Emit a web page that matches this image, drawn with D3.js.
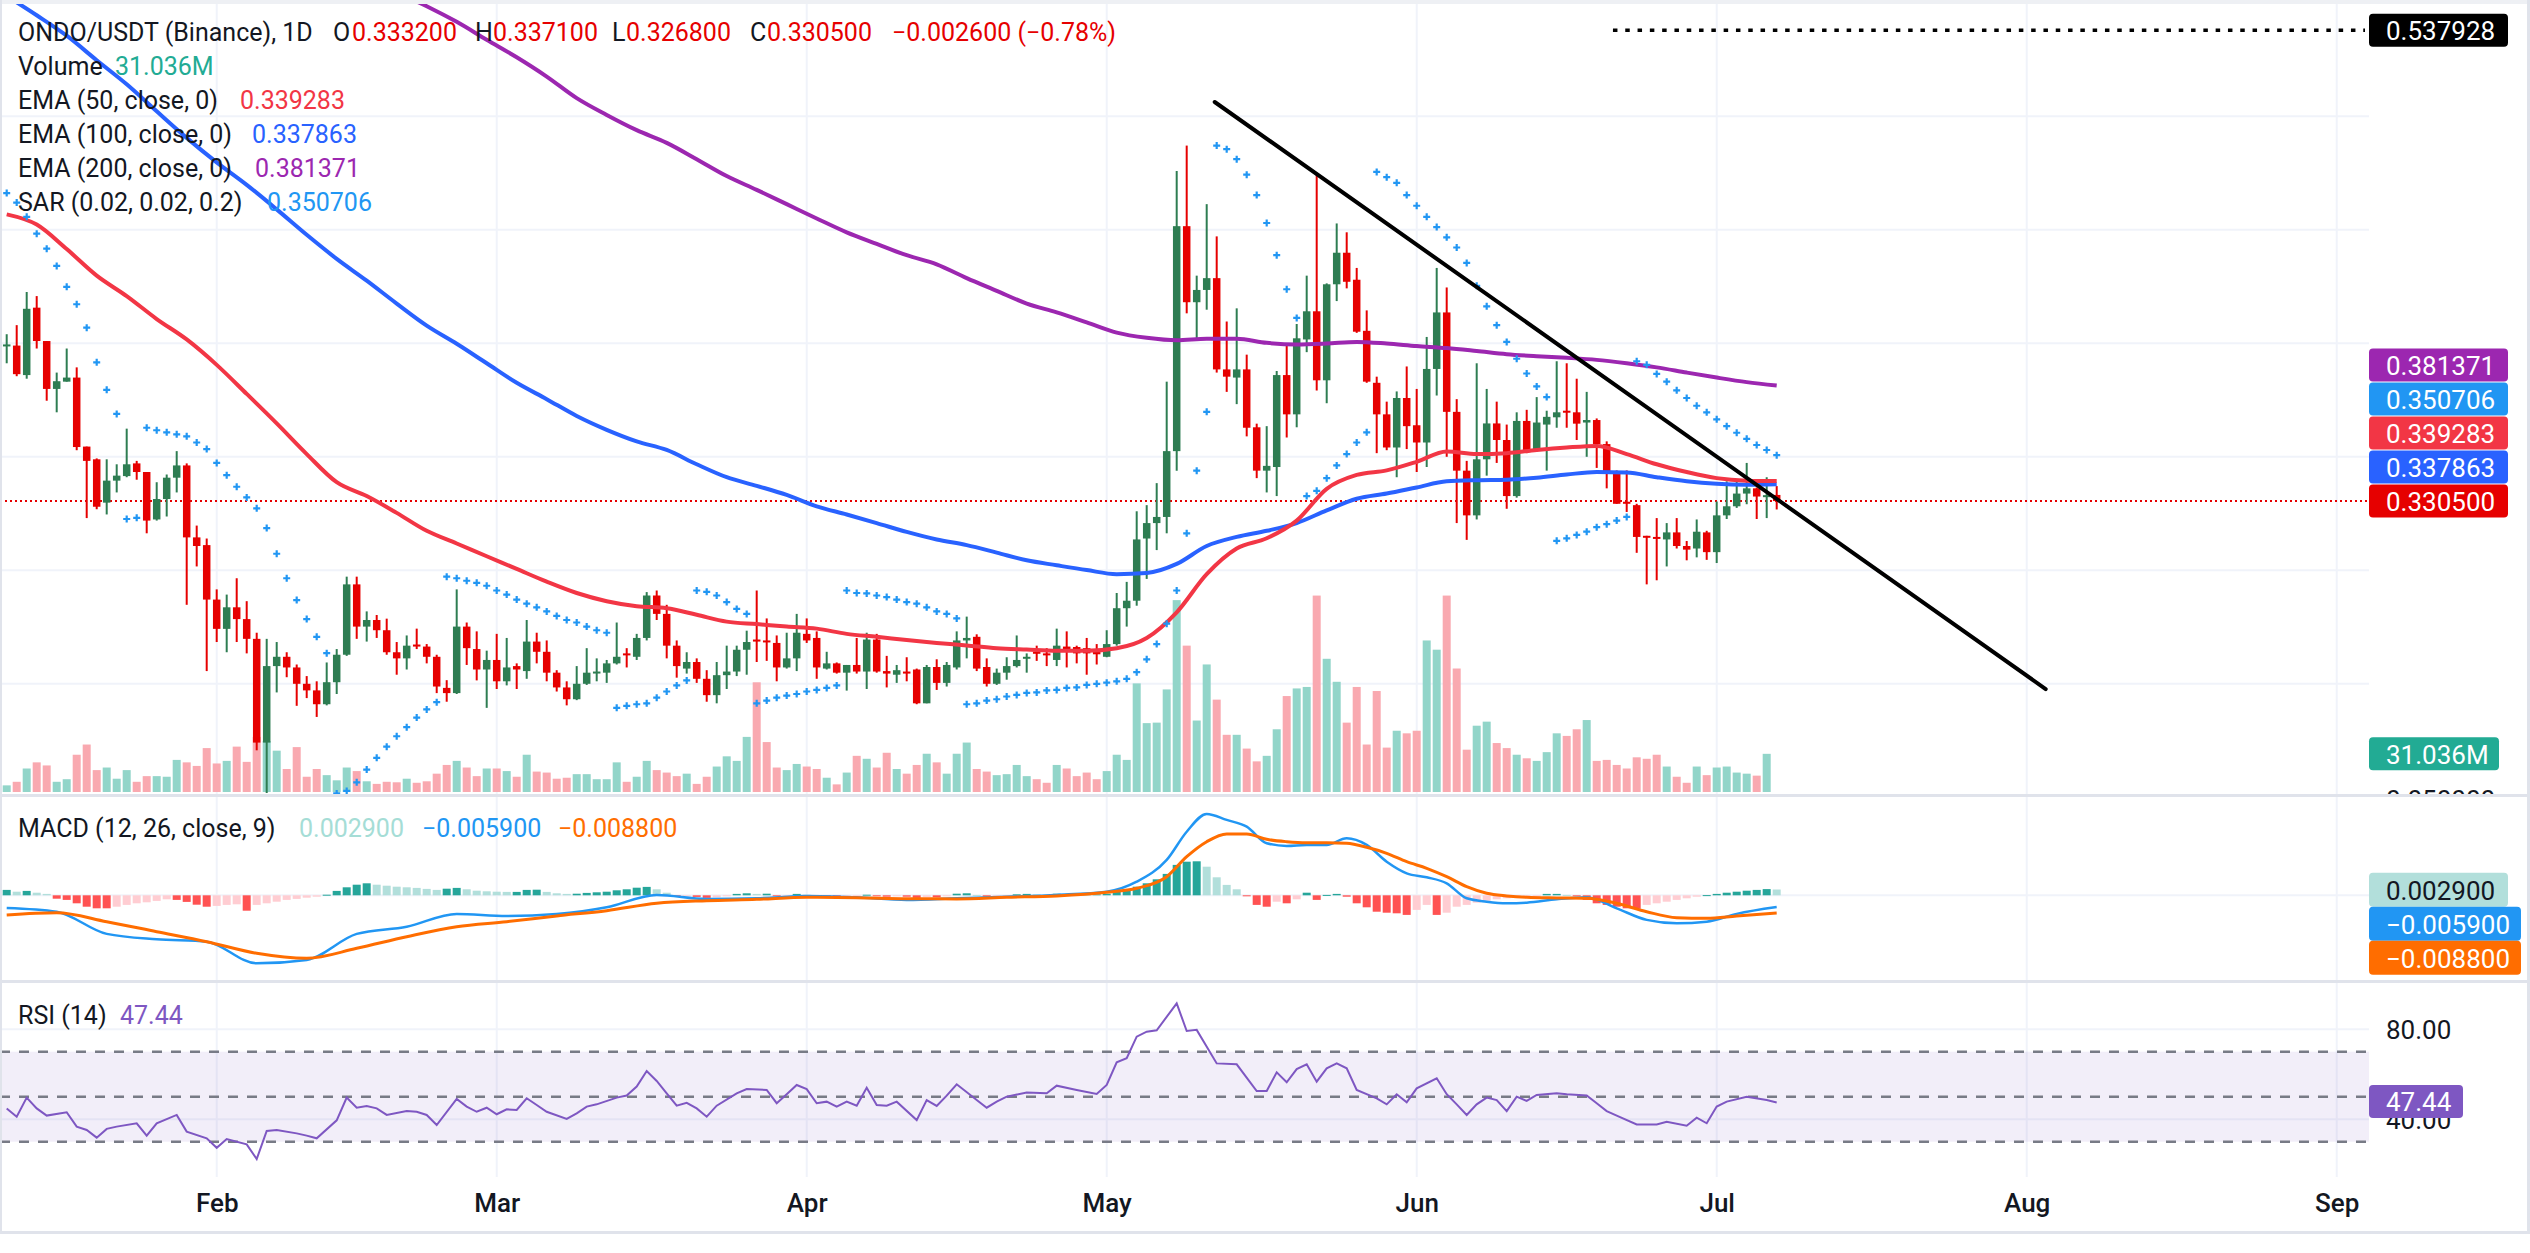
<!DOCTYPE html>
<html><head><meta charset="utf-8">
<script src="https://cdn.jsdelivr.net/npm/d3@7"></script>
<style>
html,body{margin:0;padding:0;background:#fff;}
svg{display:block;font-family:Roboto,"Liberation Sans",sans-serif;}
</style></head><body>
<svg id="chart" width="2530" height="1253"></svg>
<script>
// ---------------- DATA ----------------
const startDate = "2025-01-11";
const open = [.3988,.3990,.3860,.4157,.4010,.3799,.3831,.3849,.3545,.3489,.3298,.3395,.3415,.3471,.3433,.3224,.3314,.3408,.3462,.3145,.3111,.2871,.2742,.2837,.2785,.2698,.2241,.2578,.2619,.2572,.2500,.2471,.2410,.2507,.2628,.2938,.2752,.2781,.2736,.2639,.2612,.2673,.2664,.2619,.2482,.2459,
.2752,.2653,.2563,.2605,.2511,.2578,.2556,.2686,.2641,.2549,.2484,.2432,.2500,.2549,.2549,.2590,.2634,.2619,.2702,.2889,.2808,.2668,.2567,.2596,.2522,.2450,.2538,.2554,.2650,.2695,.2691,.2680,.2572,.2612,.2720,.2702,.2567,.2590,.2549,.2583,.2554,.2695,.2556,.2540,.2554,
.2563,.2414,.2574,.2504,.2572,.2691,.2707,.2574,.2500,.2549,.2578,.2612,.2641,.2634,.2605,.2664,.2662,.2657,.2641,.2619,.2675,.2833,.2866,.3140,.3208,.3235,.3525,.4516,.4181,.4235,.4287,.3885,.3849,.3885,.3630,.3439,.3455,.3860,.3687,.4017,.4141,.3837,.4260,.4399,.4280,
.4055,.3826,.3687,.3541,.3759,.3639,.3563,.3887,.4136,.3698,.3439,.3242,.3489,.3647,.3574,.3327,.3658,.3530,.3642,.3674,.3703,.3696,.3651,.3662,.3556,.3433,.3302,.3287,.3152,.3147,.3136,.3167,.3107,.3096,.3167,.3080,.3242,.3282,.3338,.3361,.3325,.3332];
const high = [.4040,.4080,.4226,.4208,.4010,.3871,.3977,.3894,.3545,.3493,.3489,.3467,.3624,.3482,.3433,.3388,.3422,.3525,.3471,.3197,.3140,.2916,.2893,.2965,.2864,.2725,.2698,.2684,.2639,.2585,.2534,.2511,.2594,.2653,.2972,.2972,.2819,.2803,.2787,.2684,.2713,.2743,.2675,.2628,.2516,.2916,
.2770,.2731,.2646,.2720,.2702,.2590,.2781,.2725,.2691,.2560,.2511,.2578,.2657,.2612,.2605,.2770,.2657,.2720,.2904,.2911,.2848,.2691,.2639,.2612,.2560,.2596,.2668,.2668,.2734,.2911,.2788,.2713,.2725,.2808,.2788,.2731,.2641,.2594,.2583,.2702,.2725,.2720,.2623,.2583,.2617,
.2567,.2583,.2608,.2596,.2731,.2796,.2718,.2612,.2567,.2617,.2713,.2634,.2668,.2657,.2743,.2731,.2668,.2702,.2675,.2736,.2900,.2949,.3260,.3287,.3384,.3831,.4759,.4871,.4298,.4613,.4471,.4096,.4154,.3950,.3646,.3635,.3878,.4001,.4085,.4298,.4748,.4264,.4528,.4489,.4332,
.4145,.3853,.3743,.3788,.3898,.3799,.4028,.4332,.4246,.3754,.3482,.3912,.3799,.3743,.3642,.3696,.3707,.3763,.3703,.3921,.3912,.3844,.3786,.3669,.3568,.3440,.3440,.3293,.3152,.3230,.3208,.3230,.3129,.3224,.3174,.3303,.3392,.3392,.3473,.3365,.3410,.3371];
const low = [.3912,.3855,.3844,.3977,.3747,.3696,.3831,.3529,.3230,.3269,.3246,.3343,.3410,.3399,.3163,.3219,.3237,.3343,.2848,.3017,.2556,.2684,.2639,.2684,.2634,.2207,.2019,.2462,.2529,.2403,.2437,.2354,.2405,.2455,.2623,.2698,.2686,.2702,.2628,.2540,.2563,.2653,.2590,.2459,.2421,.2455,
.2583,.2515,.2394,.2477,.2493,.2477,.2522,.2590,.2511,.2466,.2405,.2428,.2495,.2511,.2504,.2585,.2572,.2605,.2691,.2781,.2612,.2527,.2545,.2504,.2421,.2414,.2477,.2534,.2540,.2596,.2601,.2511,.2567,.2556,.2680,.2522,.2563,.2545,.2470,.2545,.2477,.2549,.2484,.2504,.2511,
.2410,.2414,.2473,.2488,.2563,.2612,.2556,.2488,.2495,.2518,.2572,.2549,.2601,.2578,.2578,.2572,.2590,.2540,.2585,.2617,.2668,.2752,.2844,.2962,.3089,.3163,.3439,.4132,.4022,.4148,.3871,.3786,.3732,.3590,.3406,.3343,.3327,.3585,.3630,.3961,.3792,.3736,.4186,.4242,.4046,
.3826,.3516,.3529,.3410,.3534,.3433,.3455,.3770,.3500,.3208,.3134,.3224,.3417,.3473,.3271,.3320,.3516,.3523,.3439,.3628,.3628,.3574,.3500,.3451,.3361,.3293,.3257,.3077,.2938,.2956,.3017,.3096,.3044,.3057,.3046,.3032,.3226,.3275,.3291,.3226,.3230,.3268];
const close = [.3995,.3864,.4152,.4010,.3799,.3833,.3849,.3543,.3482,.3280,.3395,.3417,.3467,.3433,.3219,.3314,.3408,.3462,.3145,.3107,.2871,.2742,.2837,.2785,.2698,.2241,.2578,.2619,.2572,.2500,.2471,.2410,.2507,.2628,.2938,.2752,.2781,.2736,.2639,.2612,.2668,.2664,.2619,.2488,.2459,.2752,
.2657,.2563,.2605,.2511,.2572,.2563,.2686,.2641,.2549,.2484,.2432,.2500,.2549,.2554,.2590,.2619,.2628,.2702,.2889,.2808,.2668,.2578,.2596,.2522,.2450,.2538,.2554,.2650,.2684,.2686,.2684,.2572,.2612,.2725,.2691,.2572,.2590,.2549,.2583,.2554,.2695,.2554,.2545,.2560,.2545,
.2414,.2574,.2504,.2583,.2691,.2702,.2567,.2500,.2549,.2578,.2605,.2619,.2634,.2628,.2668,.2650,.2634,.2634,.2630,.2675,.2833,.2866,.3136,.3208,.3235,.3525,.4516,.4181,.4235,.4287,.3885,.3853,.3885,.3628,.3439,.3460,.3860,.3687,.4022,.4141,.3837,.4260,.4399,.4271,.4051,
.3831,.3687,.3541,.3759,.3635,.3563,.3887,.4136,.3698,.3439,.3242,.3489,.3647,.3574,.3327,.3658,.3530,.3651,.3676,.3696,.3696,.3646,.3662,.3556,.3433,.3293,.3293,.3147,.3145,.3140,.3167,.3107,.3091,.3170,.3080,.3242,.3282,.3338,.3361,.3325,.3331,.3305];
const volumeM = [5.4,8.3,19.1,24.1,21.6,8.3,10.4,30.3,38.6,17.8,19.9,10.8,17.8,8.3,12.9,12.9,12.4,26.1,24.1,21.2,35.7,23.2,25.3,36.9,24.5,44.8,41.5,33.6,18.7,36.5,12.4,18.7,13.7,9.5,19.9,17.0,8.7,6.6,8.3,7.9,10.8,7.5,8.7,14.9,22.0,25.3,
19.9,12.9,19.1,19.1,17.0,12.4,30.3,16.6,15.8,10.8,11.6,14.5,14.5,10.4,10.4,24.1,8.3,12.4,25.3,17.8,15.8,12.9,14.9,6.6,12.4,20.7,29.0,25.3,44.8,89.2,40.6,19.9,17.8,22.8,20.7,18.7,11.6,6.2,15.8,29.4,27.0,19.9,31.9,18.7,14.9,
22.0,31.1,24.1,14.9,31.1,40.2,18.7,16.6,13.7,14.5,22.0,12.9,10.4,7.5,22.0,19.1,12.9,15.8,10.4,17.0,30.3,26.1,88.3,56.0,56.4,83.4,156.0,119.0,58.1,103.7,75.1,46.5,46.5,35.3,24.9,29.4,51.0,78.0,84.2,85.4,159.7,108.3,89.6,56.4,85.4,
38.6,82.1,36.1,49.8,47.7,49.8,123.2,115.7,159.7,100.4,34.4,53.9,57.2,39.8,35.7,30.3,27.4,25.3,32.4,47.7,45.6,51.0,58.5,25.3,26.1,22.0,19.1,28.2,27.0,30.3,20.7,12.4,7.5,20.7,13.7,19.9,20.7,15.8,14.9,13.3,31.036];
const sar = [.4662,.4620,.4557,.4483,.4417,.4341,.4249,.4172,.4069,.3916,.3795,.3689,.3226,.3231,.3628,.3617,.3608,.3599,.3590,.3563,.3534,.3473,.3419,.3368,.3321,.3273,.3186,.3073,.2965,.2869,.2785,.2707,.2635,.2017,.2028,.2066,.2122,.2174,.2223,.2269,.2309,.2351,.2387,.2419,.2972,.2965,
.2954,.2945,.2932,.2911,.2893,.2871,.2853,.2837,.2819,.2799,.2781,.2770,.2752,.2736,.2725,.2394,.2403,.2410,.2414,.2439,.2466,.2493,.2515,.2911,.2905,.2889,.2860,.2830,.2808,.2414,.2426,.2439,.2448,.2455,.2466,.2473,.2482,.2493,.2911,.2900,.2898,.2889,.2882,.2871,.2860,
.2853,.2837,.2819,.2808,.2788,.2410,.2414,.2426,.2432,.2444,.2451,.2460,.2462,.2471,.2473,.2482,.2484,.2495,.2500,.2505,.2511,.2522,.2551,.2608,.2675,.2765,.2911,.3163,.3439,.3698,.4871,.4855,.4811,.4743,.4653,.4530,.4388,.4238,.4112,.3327,.3350,.3406,.3462,.3512,.3563,
.3608,.4755,.4732,.4707,.4653,.4606,.4557,.4512,.4467,.4422,.4354,.4253,.4163,.4080,.4006,.3932,.3867,.3810,.3763,.3130,.3141,.3156,.3170,.3190,.3203,.3219,.3235,.3921,.3905,.3865,.3831,.3793,.3759,.3725,.3696,.3665,.3635,.3606,.3579,.3552,.3530,.3507];
// EMA samples (every 3rd session)
const ema50Days = d3.range(0, 178, 3);
const ema50 = [.4568,.4523,.4415,.4298,.4208,.4107,.4017,.3905,.3777,.3647,.3512,.3388,.3327,.3253,.3174,.3118,.3062,.3006,.2950,.2900,.2864,.2842,.2833,.2804,.2774,.2763,.2752,.2743,.2720,.2707,.2693,.2680,.2669,.2657,.2651,.2646,.2646,.2657,.2702,.2815,.2983,.3096,.3141,.3219,.3359,.3420,.3440,.3478,.3523,.3512,.3516,.3530,.3541,.3548,.3512,.3467,.3433,.3406,.3395,.3393];
const ema100Days = d3.range(0, 178, 3);
const ema100 = [.5530,.5445,.5355,.5247,.5141,.5022,.4905,.4797,.4698,.4590,.4478,.4372,.4276,.4175,.4078,.3998,.3912,.3826,.3754,.3680,.3619,.3568,.3530,.3467,.3410,.3372,.3332,.3282,.3246,.3208,.3169,.3136,.3111,.3078,.3044,.3022,.3001,.2983,.2988,.3028,.3107,.3147,.3174,.3208,.3264,.3315,.3338,.3365,.3392,.3397,.3399,.3408,.3422,.3433,.3431,.3410,.3392,.3381,.3377,.3379];
const ema200Days = d3.range(36, 178, 3);
const ema200 = [.5613,.5546,.5485,.5416,.5337,.5260,.5175,.5080,.5006,.4939,.4883,.4811,.4737,.4676,.4613,.4550,.4489,.4438,.4388,.4348,.4287,.4231,.4175,.4136,.4092,.4047,.4024,.4013,.4020,.4020,.4002,.3995,.3999,.4006,.3999,.3988,.3979,.3966,.3952,.3943,.3936,.3927,.3912,.3894,.3871,.3849,.3829,.3814];
// MACD samples
const macdDays = [0,5,10,15,20,25,30,35,40,45,50,55,60,65,70,75,80,85,90,95,100,105,110,113,116,118,120,122,124,126,128,130,132,134,136,138,140,142,144,146,148,150,152,155,158,161,164,167,170,173,177];
const macdLine = [-.0063,-.0082,-.0193,-.0220,-.0232,-.0340,-.0323,-.0193,-.0157,-.0093,-.0103,-.0093,-.0060,.0002,-.0018,-.0015,-.0003,-.0010,-.0023,-.0015,-.0007,.0002,.0018,.0068,.0177,.0318,.0407,.0377,.0343,.0260,.0247,.0252,.0252,.0285,.0252,.0168,.0110,.0090,.0060,-.0015,-.0032,-.0040,-.0037,-.0020,-.0010,-.0065,-.0123,-.0140,-.0132,-.0093,-.0059];
const signalLine = [-.0098,-.0087,-.0132,-.0182,-.0232,-.0290,-.0315,-.0265,-.0207,-.0157,-.0132,-.0103,-.0077,-.0040,-.0027,-.0020,-.0010,-.0012,-.0017,-.0018,-.0010,-.0003,.0015,.0035,.0093,.0193,.0268,.0307,.0307,.0280,.0268,.0263,.0263,.0260,.0240,.0210,.0168,.0135,.0093,.0043,.0010,-.0003,-.0010,-.0013,-.0015,-.0040,-.0082,-.0112,-.0115,-.0103,-.0088];
const macdHist = [.0027,.0018,.0022,.0013,.0007,-.0017,-.0023,-.0040,-.0057,-.0065,-.0065,-.0057,-.0048,-.0040,-.0035,-.0028,-.0020,-.0023,-.0033,-.0047,-.0057,-.0053,-.0048,-.0045,-.0077,-.0048,-.0040,-.0032,-.0023,-.0018,-.0012,-.0007,.0003,.0022,.0040,.0053,.0060,.0053,.0048,.0043,.0040,.0037,.0032,.0027,.0033,.0037,
.0030,.0023,.0020,.0018,.0017,.0017,.0027,.0028,.0017,.0010,.0007,.0008,.0012,.0015,.0018,.0025,.0030,.0038,.0042,.0030,.0013,-.0003,-.0002,-.0008,-.0013,-.0010,-.0003,.0007,.0010,.0007,.0008,-.0003,-.0002,.0007,.0003,-.0007,-.0007,-.0010,-.0008,-.0005,.0003,-.0003,-.0007,-.0003,-.0007,
-.0013,-.0008,-.0010,-.0003,.0008,.0010,.0001,-.0007,-.0003,-.0001,.0005,.0007,.0005,.0003,.0008,.0007,.0005,.0003,.0005,.0008,.0018,.0027,.0043,.0060,.0080,.0107,.0152,.0168,.0170,.0143,.0090,.0052,.0030,-.0003,-.0048,-.0057,-.0032,-.0040,-.0020,.0013,-.0023,.0002,.0007,-.0007,-.0040,
-.0060,-.0082,-.0087,-.0090,-.0098,-.0073,-.0048,-.0098,-.0087,-.0057,-.0048,-.0037,-.0027,-.0020,-.0015,-.0010,-.0007,-.0003,.0007,.0007,.0002,-.0003,-.0023,-.0040,-.0048,-.0057,-.0065,-.0067,-.0048,-.0040,-.0032,-.0023,-.0015,-.0007,.0001,.0007,.0013,.0018,.0023,.0027,.0031,.0029];
// RSI samples
const rsiDays = [0,1,2,3,4,6,7,8,9,10,11,13,14,15,17,18,20,21,22,24,25,26,27,29,30,31,33,34,35,36,37,38,40,41,42,43,45,46,47,48,49,50,51,52,53,54,56,57,58,59,61,62,63,64,65,66,67,68,69,70,71,73,74,76,77,78,79,80,81,82,83,84,85,86,87,88,89,91,92,93,94,95,97,98,99,100,102,104,105,107,109,110,111,112,113,114,115,117,118,119,121,123,125,126,127,128,129,130,131,132,133,134,135,137,138,139,140,141,143,144,145,146,147,148,149,150,151,152,153,155,156,158,159,160,161,163,165,166,168,169,170,171,172,174,176,177];
const rsiVals = [44.8,41.1,49.6,44.8,41.6,43.1,36.7,35.2,31.8,35.7,36.7,38.2,32.7,38.2,41.9,34.5,31.5,27.3,31.2,28.8,22.3,34.8,35.2,33.7,32.7,31.5,39.5,49.6,45.1,45.9,44.8,41.9,43.6,43.3,41.9,37.4,49.0,45.6,43.3,45.1,42.2,44.4,44.1,49.3,46.3,43.3,40.1,42.6,45.6,46.6,49.6,50.5,54.5,61.4,57.0,51.5,46.0,47.3,44.8,41.1,46.0,51.5,53.4,53.0,47.1,51.1,55.2,53.4,47.1,47.8,45.6,47.8,46.0,54.0,46.3,46.0,47.8,39.6,48.5,45.9,50.5,55.5,48.5,45.1,47.8,50.0,51.9,51.5,54.9,53.0,51.2,55.2,65.3,67.1,76.7,78.9,79.5,91.5,79.2,79.7,64.8,64.4,52.5,52.5,60.8,56.4,62.3,64.4,56.7,62.6,64.8,62.6,53.0,49.3,46.6,51.1,47.5,53.7,58.2,51.1,46.6,41.9,46.6,49.6,48.5,43.6,50.0,48.1,50.8,51.5,51.1,50.5,47.1,43.6,41.6,37.7,37.7,38.9,37.1,40.7,38.2,45.6,47.8,50.0,48.5,47.44];
// drawings / axes
const trendLine = [{t:"2025-05-11T19:12:00Z", p:0.5063},{t:"2025-08-02T21:36:00Z", p:0.2477}];
const hlineLevel = 0.537928;
const hlineStart = "2025-06-20T15:00:00Z";
const priceGrid = [0.55,0.50,0.45,0.40,0.35,0.30,0.25];
const priceTickLabels = [0.55,0.50,0.45,0.40,0.30,0.25];
const monthTicks = ["2025-02-01","2025-03-01","2025-04-01","2025-05-01","2025-06-01","2025-07-01","2025-08-01","2025-09-01"];
const rsiTicks = [80, 40];
const rsiBands = [70, 50, 30];

// ---------------- SETUP ----------------
const svg = d3.select("#chart");
const W = 2530, H = 1253, AX = 2369;
const main = {top:4, bottom:794}, macdP = {top:797, bottom:980}, rsiP = {top:983, bottom:1177};
const C = {green:"#2e7d52", red:"#e60000", grid:"#f0f3fa", sep:"#e0e3eb", text:"#131722",
  volG:"#92d5c9", volR:"#f9a9b0", ema50:"#f23645", ema100:"#2962ff", ema200:"#9c27b0", sar:"#2196f3",
  hDark:"#26a69a", hLight:"#b2dfdb", hRed:"#ff5252", hPink:"#ffcdd2", macd:"#2196f3", signal:"#ff6d00", rsi:"#7e57c2"};
const parse = d3.utcParse("%Y-%m-%d");
const t0 = parse(startDate);
const dates = open.map((_, i) => d3.utcDay.offset(t0, i));
const N = dates.length;
const x = d3.scaleUtc().domain([dates[0], dates[N-1]]).range([6.7, 1776.7]);
const xi = i => x(d3.utcDay.offset(t0, i));
const y = d3.scaleLinear().domain([0.25, 0.5]).range([683.8, 116.3]);
const yVol = d3.scaleLinear().domain([0, 160]).range([792, 595.2]);
const yM = d3.scaleLinear().domain([0, 0.01]).range([895.3, 875.3]);
const yR = d3.scaleLinear().domain([30, 70]).range([1141.7, 1051.7]);

const defs = svg.append("defs");
function clip(id, x0, y0, x1, y1){ defs.append("clipPath").attr("id", id).append("rect").attr("x",x0).attr("y",y0).attr("width",x1-x0).attr("height",y1-y0); return `url(#${id})`; }
const clipMain = clip("cm", 0, main.top, AX, main.bottom);
const clipMacd = clip("cmacd", 0, macdP.top, AX, macdP.bottom);
const clipRsi = clip("crsi", 0, rsiP.top, AX, rsiP.bottom);
const clipAxisMain = clip("cam", AX, main.top, W, main.bottom);

svg.append("rect").attr("width", W).attr("height", H).attr("fill", "#fff");

// vertical month grid
const gGrid = svg.append("g");
monthTicks.forEach(m => {
  const xx = x(parse(m));
  [[main.top, main.bottom],[macdP.top, macdP.bottom],[rsiP.top, rsiP.bottom]].forEach(([a,b]) =>
    gGrid.append("line").attr("x1", xx).attr("x2", xx).attr("y1", a).attr("y2", b).attr("stroke", C.grid).attr("stroke-width", 2));
});
priceGrid.forEach(p => gGrid.append("line").attr("x1",0).attr("x2",AX).attr("y1",y(p)).attr("y2",y(p)).attr("stroke",C.grid).attr("stroke-width",2).attr("clip-path",clipMain));
gGrid.append("line").attr("x1",0).attr("x2",AX).attr("y1",yM(0)).attr("y2",yM(0)).attr("stroke",C.grid).attr("stroke-width",2);
rsiTicks.forEach(v => gGrid.append("line").attr("x1",0).attr("x2",AX).attr("y1",yR(v)).attr("y2",yR(v)).attr("stroke",C.grid).attr("stroke-width",2));

// ---------------- MAIN PANE ----------------
const gMain = svg.append("g").attr("clip-path", clipMain);
const up = i => close[i] >= open[i];
gMain.append("g").selectAll("rect").data(volumeM).join("rect")
  .attr("x", (d,i) => xi(i) - 4).attr("width", 8)
  .attr("y", d => yVol(d)).attr("height", d => yVol(0) - yVol(d))
  .attr("fill", (d,i) => up(i) ? C.volG : C.volR);
gMain.append("line").attr("x1",0).attr("x2",AX).attr("y1",y(close[N-1])).attr("y2",y(close[N-1]))
  .attr("stroke",C.red).attr("stroke-width",2).attr("stroke-dasharray","2,3");
const gC = gMain.append("g");
d3.range(N).forEach(i => {
  const col = up(i) ? C.green : C.red;
  gC.append("line").attr("x1", xi(i)).attr("x2", xi(i)).attr("y1", y(high[i])).attr("y2", y(low[i])).attr("stroke", col).attr("stroke-width", 2);
  const top = y(Math.max(open[i], close[i])), bot = y(Math.min(open[i], close[i]));
  gC.append("rect").attr("x", xi(i) - 3.75).attr("width", 7.5).attr("y", top).attr("height", Math.max(2, bot - top)).attr("fill", col);
});
function emaPath(days, vals, color){
  const line = d3.line().x((d,j) => xi(days[j])).y(d => y(d)).curve(d3.curveMonotoneX);
  gMain.append("path").datum(vals).attr("d", line).attr("fill","none").attr("stroke",color).attr("stroke-width",4).attr("stroke-linejoin","round");
}
emaPath(ema200Days, ema200, C.ema200);
emaPath(ema100Days, ema100, C.ema100);
emaPath(ema50Days, ema50, C.ema50);
gMain.append("g").selectAll("path").data(sar).join("path")
  .attr("d", (d,i) => `M${xi(i)-3.5},${y(d)}h7M${xi(i)},${y(d)-3.5}v7`)
  .attr("stroke", C.sar).attr("stroke-width", 2.2).attr("fill","none");
gMain.append("line").attr("x1", x(new Date(trendLine[0].t))).attr("y1", y(trendLine[0].p))
  .attr("x2", x(new Date(trendLine[1].t))).attr("y2", y(trendLine[1].p))
  .attr("stroke","#000").attr("stroke-width",4).attr("stroke-linecap","round");
svg.append("line").attr("x1", x(new Date(hlineStart))).attr("x2", AX-4).attr("y1", y(hlineLevel)).attr("y2", y(hlineLevel))
  .attr("stroke","#000").attr("stroke-width",3.5).attr("stroke-dasharray","4.5,7.8");

// price axis
const fmt6 = d3.format(".6f");
const gAx = svg.append("g").attr("clip-path", clipAxisMain).attr("transform", `translate(${AX},0)`)
  .call(d3.axisRight(y).tickValues(priceTickLabels).tickFormat(fmt6).tickSize(0).tickPadding(17));
gAx.select(".domain").remove();
gAx.selectAll("text").attr("font-size", 26).attr("font-family","Roboto").attr("fill", C.text);
svg.append("text").attr("x", AX+17).attr("y", main.bottom + 6).attr("dominant-baseline","central")
  .attr("font-size",26).attr("fill",C.text).attr("clip-path",clipAxisMain).text("0.050000");

function boxLabel(yc, txt, bg, fg, w){
  svg.append("rect").attr("x", AX).attr("y", yc - 16.5).attr("width", w).attr("height", 33).attr("rx", 4).attr("fill", bg);
  svg.append("text").attr("x", AX + 17).attr("y", yc + 1).attr("dominant-baseline","central").attr("font-size", 26).attr("fill", fg).text(txt);
}
boxLabel(y(hlineLevel), fmt6(hlineLevel), "#000", "#fff", 139);
const lastVals = [
  {v: ema200[ema200.length-1], txt: "0.381371", c: C.ema200},
  {v: sar[N-1], txt: "0.350706", c: C.sar},
  {v: ema50[ema50.length-1], txt: "0.339283", c: C.ema50},
  {v: ema100[ema100.length-1], txt: "0.337863", c: C.ema100},
  {v: close[N-1], txt: fmt6(close[N-1]), c: C.red}
].sort((a,b) => a.v - b.v);
let prevY = Infinity;
lastVals.forEach(d => { let yy = y(d.v); if (yy > prevY - 34) yy = prevY - 34; prevY = yy; boxLabel(yy, d.txt, d.c, "#fff", 139); });
boxLabel(yVol(volumeM[N-2]), d3.format(".3f")(volumeM[N-2]) + "M", "#22ab94", "#fff", 130);

// ---------------- MACD PANE ----------------
const gM = svg.append("g").attr("clip-path", clipMacd);
gM.append("g").selectAll("rect").data(macdHist).join("rect")
  .attr("x", (d,i) => xi(i) - 4).attr("width", 8)
  .attr("y", d => Math.min(yM(d), yM(0))).attr("height", d => Math.max(1, Math.abs(yM(d) - yM(0))))
  .attr("fill", (d,i) => {
    const prev = i > 0 ? macdHist[i-1] : d;
    if (d >= 0) return d >= prev ? C.hDark : C.hLight;
    return d <= prev ? C.hRed : C.hPink;
  });
const lineM = days => d3.line().x((d,j) => xi(days[j])).y(d => yM(d)).curve(d3.curveMonotoneX);
gM.append("path").datum(macdLine).attr("d", lineM(macdDays)).attr("fill","none").attr("stroke",C.macd).attr("stroke-width",2.5);
gM.append("path").datum(signalLine).attr("d", lineM(macdDays)).attr("fill","none").attr("stroke",C.signal).attr("stroke-width",3);
const fm = d3.format(".6f");
const mLabels = [[macdHist[N-1], C.hLight, C.text, 139],[macdLine[macdLine.length-1], C.macd, "#fff", 152],[signalLine[signalLine.length-1], C.signal, "#fff", 152]];
mLabels.forEach((d,j) => {
  const yc = 889.7 + j*34;
  svg.append("rect").attr("x", AX).attr("y", yc-17).attr("width", d[3]).attr("height", 34).attr("rx", 4).attr("fill", d[1]);
  svg.append("text").attr("x", AX+17).attr("y", yc+1).attr("dominant-baseline","central").attr("font-size",26).attr("fill",d[2]).text(fm(d[0]));
});

// ---------------- RSI PANE ----------------
const gR = svg.append("g").attr("clip-path", clipRsi);
gR.append("rect").attr("x",0).attr("width",AX).attr("y",yR(70)).attr("height",yR(30)-yR(70)).attr("fill",C.rsi).attr("fill-opacity",0.1);
rsiBands.forEach(v => gR.append("line").attr("x1",0).attr("x2",AX).attr("y1",yR(v)).attr("y2",yR(v)).attr("stroke","#787b86").attr("stroke-width",2.5).attr("stroke-dasharray","10,9"));
gR.append("path").datum(rsiVals).attr("d", d3.line().x((d,j)=>xi(rsiDays[j])).y(d=>yR(d)).curve(d3.curveLinear))
  .attr("fill","none").attr("stroke",C.rsi).attr("stroke-width",2);
rsiTicks.forEach(v => svg.append("text").attr("x",AX+17).attr("y",yR(v)+1).attr("dominant-baseline","central").attr("font-size",26).attr("fill",C.text).text(d3.format(".2f")(v)));
svg.append("rect").attr("x",AX).attr("y",1085).attr("width",94).attr("height",33).attr("rx",4).attr("fill",C.rsi);
svg.append("text").attr("x",AX+17).attr("y",1102).attr("dominant-baseline","central").attr("font-size",26).attr("fill","#fff").text(d3.format(".2f")(rsiVals[rsiVals.length-1]));

// ---------------- TIME AXIS ----------------
const gT = svg.append("g").attr("transform", `translate(0,${rsiP.bottom})`)
  .call(d3.axisBottom(x).tickValues(monthTicks.map(parse)).tickFormat(d3.utcFormat("%b")).tickSize(0).tickPadding(17));
gT.select(".domain").remove();
gT.selectAll("text").attr("font-size",26).attr("font-family","Roboto").attr("fill",C.text).attr("font-weight",500);

// ---------------- SEPARATORS / FRAME ----------------
svg.append("rect").attr("x",0).attr("y",0).attr("width",W).attr("height",4).attr("fill","#eef0f4");
[[main.bottom, 3],[macdP.bottom, 3],[1231, 3]].forEach(([yy,h]) => svg.append("rect").attr("x",0).attr("y",yy).attr("width",W).attr("height",h).attr("fill",C.sep));
svg.append("rect").attr("x",0).attr("y",0).attr("width",2).attr("height",1234).attr("fill",C.sep);
svg.append("rect").attr("x",W-3).attr("y",0).attr("width",3).attr("height",1234).attr("fill",C.sep);

// ---------------- LEGENDS ----------------
function txt(xx, yy, s, col, size){ svg.append("text").attr("x",xx).attr("y",yy).attr("dominant-baseline","central").attr("font-size",size||25).attr("fill",col).text(s); }
const L = N-1;
const chg = close[L] - close[L-1];
txt(18, 32, "ONDO/USDT (Binance), 1D", C.text);
const ohlcCol = close[L] >= open[L] ? C.green : C.red;
txt(333, 32, "O", C.text); txt(352, 32, fmt6(open[L]), ohlcCol);
txt(475, 32, "H", C.text); txt(493, 32, fmt6(high[L]), ohlcCol);
txt(612, 32, "L", C.text); txt(626, 32, fmt6(low[L]), ohlcCol);
txt(750, 32, "C", C.text); txt(767, 32, fmt6(close[L]), ohlcCol);
txt(892, 32, `${fmt6(chg).replace("-","\u2212")} (${d3.format(".2f")(chg/close[L-1]*100).replace("-","\u2212")}%)`, ohlcCol);
txt(18, 66, "Volume", C.text); txt(115, 66, d3.format(".3f")(volumeM[N-2]) + "M", "#22ab94");
txt(18, 100, "EMA (50, close, 0)", C.text); txt(240, 100, "0.339283", C.ema50);
txt(18, 134, "EMA (100, close, 0)", C.text); txt(252, 134, "0.337863", C.ema100);
txt(18, 168, "EMA (200, close, 0)", C.text); txt(255, 168, "0.381371", C.ema200);
txt(18, 202, "SAR (0.02, 0.02, 0.2)", C.text); txt(267, 202, "0.350706", C.sar);
txt(18, 828, "MACD (12, 26, close, 9)", C.text); txt(299, 828, fm(macdHist[N-1]), "#a5ddd6"); txt(422, 828, fm(macdLine[macdLine.length-1]), C.macd); txt(558, 828, fm(signalLine[signalLine.length-1]), C.signal);
txt(18, 1015, "RSI (14)", C.text); txt(120, 1015, d3.format(".2f")(rsiVals[rsiVals.length-1]), C.rsi);
</script>
</body></html>
